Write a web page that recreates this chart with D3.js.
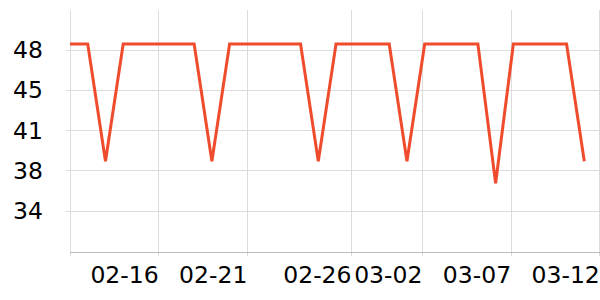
<!DOCTYPE html>
<html>
<head>
<meta charset="utf-8">
<script src="https://cdn.jsdelivr.net/npm/d3@7"></script>
<style>
  html, body { margin: 0; padding: 0; background: #fff; }
  svg { display: block; }
  text { font-family: "DejaVu Sans", sans-serif; }
</style>
</head>
<body>
<svg id="chart" width="600" height="300"></svg>
<script>
// ---- data ----
const dates = [
  "2024-02-11","2024-02-12","2024-02-13","2024-02-14","2024-02-15",
  "2024-02-16","2024-02-17","2024-02-18","2024-02-19","2024-02-20",
  "2024-02-21","2024-02-22","2024-02-23","2024-02-24","2024-02-25",
  "2024-02-26","2024-02-27","2024-02-28","2024-02-29","2024-03-01",
  "2024-03-02","2024-03-03","2024-03-04","2024-03-05","2024-03-06",
  "2024-03-07","2024-03-08","2024-03-09","2024-03-10","2024-03-11"
];
const values = [
  48.5, 48.5, 38.6, 48.5, 48.5,
  48.5, 48.5, 48.5, 38.6, 48.5,
  48.5, 48.5, 48.5, 48.5, 38.6,
  48.5, 48.5, 48.5, 48.5, 38.6,
  48.5, 48.5, 48.5, 48.5, 36.75,
  48.5, 48.5, 48.5, 48.5, 38.6
];
const yTickValues = [34.4, 37.8, 41.2, 44.6, 48.0];
const xTickValues = [
  "2024-02-16T00:00","2024-02-21T00:00","2024-02-26T21:00",
  "2024-03-01T21:00","2024-03-06T21:00","2024-03-11T21:00"
];
const xTickLabels = ["02-16","02-21","02-26","03-02","03-07","03-12"];
const yDomain = [30.94, 51.38];

// ---- layout ----
const mLeft = 70, mRight = 600, mTop = 10, mBottom = 252;
const parse = d3.timeParse("%Y-%m-%d");
const parseT = d3.timeParse("%Y-%m-%dT%H:%M");
const data = dates.map((d, i) => ({ date: parse(d), value: values[i] }));

const x = d3.scaleTime()
  .domain([parse(dates[0]), parse(dates[dates.length - 1])])
  .range([mLeft, 584.3]);
const y = d3.scaleLinear().domain(yDomain).range([mBottom, mTop]);

const svg = d3.select("#chart");

// horizontal grid + y ticks
const yTicks = yTickValues.map(v => ({ v, label: d3.format(".0f")(v) }));
svg.append("g").selectAll("line").data(yTicks).join("line")
  .attr("x1", mLeft - 4).attr("x2", mRight)
  .attr("y1", d => y(d.v)).attr("y2", d => y(d.v))
  .attr("stroke", "#dcdcdc").attr("stroke-width", 1).attr("shape-rendering", "crispEdges");
svg.append("g").selectAll("text").data(yTicks).join("text")
  .attr("x", 43).attr("y", d => y(d.v))
  .attr("text-anchor", "end").attr("dominant-baseline", "central")
  .attr("font-size", 23.5).attr("fill", "#000")
  .text(d => d.label);

// vertical grid + x ticks
const xTicks = xTickValues.map((v, i) => ({ d: parseT(v), label: xTickLabels[i] }));
svg.append("line")
  .attr("x1", mLeft).attr("x2", mLeft).attr("y1", mTop).attr("y2", mBottom + 4)
  .attr("stroke", "#dcdcdc").attr("shape-rendering", "crispEdges");
svg.append("g").selectAll("line").data(xTicks).join("line")
  .attr("x1", d => x(d.d)).attr("x2", d => x(d.d))
  .attr("y1", mTop).attr("y2", mBottom + 4)
  .attr("stroke", "#dcdcdc").attr("stroke-width", 1).attr("shape-rendering", "crispEdges");
svg.append("g").selectAll("text").data(xTicks).join("text")
  .attr("x", d => x(d.d)).attr("y", 282.5)
  .attr("text-anchor", "end")
  .attr("font-size", 23.5).attr("fill", "#000")
  .text(d => d.label);

// x axis line
svg.append("line")
  .attr("x1", mLeft).attr("x2", mRight).attr("y1", mBottom).attr("y2", mBottom)
  .attr("stroke", "#bbbbbb").attr("stroke-width", 1).attr("shape-rendering", "crispEdges");

// series line
const line = d3.line().x(d => x(d.date)).y(d => y(d.value));
svg.append("path").datum(data)
  .attr("d", line)
  .attr("fill", "none")
  .attr("stroke", "#ef4b2d")
  .attr("stroke-width", 3);
</script>
</body>
</html>
